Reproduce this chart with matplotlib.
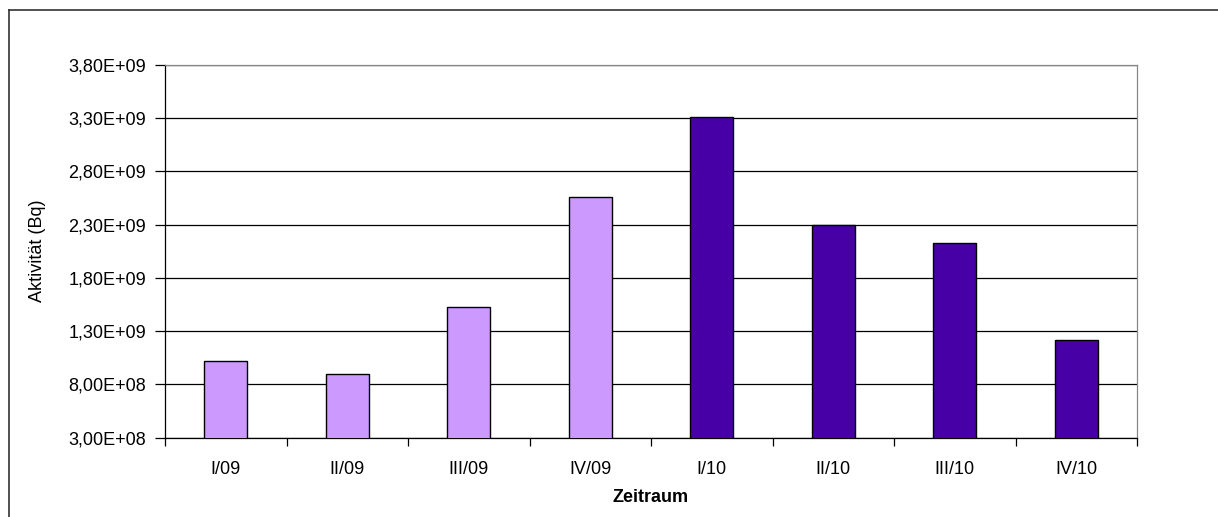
import matplotlib
matplotlib.use("Agg")
import matplotlib.pyplot as plt
from matplotlib.lines import Line2D
from matplotlib.ticker import FuncFormatter

categories = ["I/09", "II/09", "III/09", "IV/09", "I/10", "II/10", "III/10", "IV/10"]
values = [1.02e9, 0.90e9, 1.53e9, 2.56e9, 3.31e9, 2.30e9, 2.13e9, 1.22e9]
bar_colors = ["#CC99FF"] * 4 + ["#4700A5"] * 4
y_label = "Aktivität (Bq)"
x_label = "Zeitraum"
y_ticks = [3.0e8, 8.0e8, 1.3e9, 1.8e9, 2.3e9, 2.8e9, 3.3e9, 3.8e9]

plt.rcParams['font.family'] = ['Liberation Sans', 'DejaVu Sans']

W, H = 1218, 517
L, R, T, B = 165, 1137, 64.7, 437.7
fig = plt.figure(figsize=(W/100, H/100), dpi=100)
ax = fig.add_axes([L/W, 1 - B/H, (R-L)/W, (B-T)/H])

x = list(range(len(categories)))
ax.bar(x, values, width=0.355, color=bar_colors, edgecolor="black", linewidth=1.0, zorder=3)

ax.set_ylim(y_ticks[0], y_ticks[-1])
ax.set_xlim(-0.5, len(categories) - 0.5)
ax.set_yticks(y_ticks)

def fmt(v, pos):
    return ("%.2E" % v).replace(".", ",")
ax.yaxis.set_major_formatter(FuncFormatter(fmt))

ax.grid(axis="y", color="black", linewidth=0.9, zorder=0)
ax.set_axisbelow(True)

# x ticks at category boundaries, labels at centers
ax.set_xticks([i - 0.5 for i in range(len(categories) + 1)])
ax.set_xticklabels([])
ax.set_xticks(x, minor=True)
ax.set_xticklabels(categories, minor=True)
ax.tick_params(axis="x", which="major", direction="out", length=6, width=0.9, color="black")
ax.tick_params(axis="x", which="minor", length=0, pad=17, labelsize=13)
ax.tick_params(axis="y", direction="out", length=7, width=0.9, pad=6.5, labelsize=13)

for side in ["left", "bottom"]:
    ax.spines[side].set_color("black")
    ax.spines[side].set_linewidth(0.9)
for side in ["right", "top"]:
    ax.spines[side].set_color("#888888")
    ax.spines[side].set_linewidth(0.9)

ax.set_xlabel(x_label, fontsize=13, fontweight="bold")
ax.xaxis.set_label_coords(0.5, -(489 - B)/(B - T))
ax.set_ylabel(y_label, fontsize=13)
ax.yaxis.set_label_coords(-(L - 46)/(R - L), 0.5)

# outer chart border (left and top visible)
fig.add_artist(Line2D([9/W, 9/W], [0, 1 - 10/H], transform=fig.transFigure,
                      color="#333333", linewidth=1.2))
fig.add_artist(Line2D([9/W, 1], [1 - 10/H, 1 - 10/H], transform=fig.transFigure,
                      color="#333333", linewidth=1.2))

fig.savefig("out.png", dpi=100)
